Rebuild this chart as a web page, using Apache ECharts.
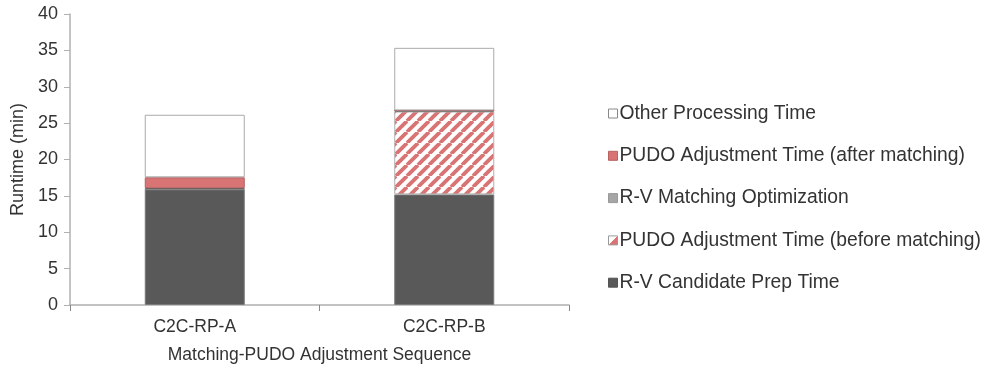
<!DOCTYPE html>
<html>
<head>
<meta charset="utf-8">
<script src="https://cdn.jsdelivr.net/npm/echarts@6/dist/echarts.min.js"></script>
<style>
  html, body { margin: 0; padding: 0; background: #fff; }
  #chart { width: 992px; height: 366px; }
</style>
</head>
<body>
<div id="chart"></div>
<script>
// Runtime breakdown per sequence (minutes)
const categories = ['C2C-RP-A', 'C2C-RP-B'];
const candidatePrep = [15.9, 15.2];
const pudoBefore = [0, 11.4];
const matchingOpt = [0.15, 0.15];
const pudoAfter = [1.5, 0];
const otherProcessing = [8.6, 8.6];
const yTicks = [0, 5, 10, 15, 20, 25, 30, 35, 40];

const RED = '#d87474';

// Diagonal red hatch tile
function hatchTile() {
  const s = 11;
  const c = document.createElement('canvas');
  c.width = s; c.height = s;
  const g = c.getContext('2d');
  g.fillStyle = '#ffffff';
  g.fillRect(0, 0, s, s);
  g.strokeStyle = RED;
  g.lineWidth = 3.8;
  for (let k = -1; k <= 1; k++) {
    g.beginPath();
    g.moveTo(k * s, s);
    g.lineTo(k * s + s, 0);
    g.stroke();
  }
  return c;
}

const font = 'Liberation Sans, Arial, sans-serif';
const chart = echarts.init(document.getElementById('chart'), null, { renderer: 'canvas' });

function barSeries(name, data, color, border) {
  return {
    name: name,
    type: 'bar',
    stack: 'total',
    data: data,
    barWidth: 100,
    itemStyle: { color: color, borderColor: border, borderWidth: 1 },
    emphasis: { disabled: true }
  };
}

// Legend swatch for the hatched series: half white, half red, split on the diagonal
const hatchIcon = {
  type: 'linear', x: 0, y: 0, x2: 1, y2: 1,
  colorStops: [
    { offset: 0, color: '#ffffff' }, { offset: 0.5, color: '#ffffff' },
    { offset: 0.5, color: RED }, { offset: 1, color: RED }
  ]
};

chart.setOption({
  animation: false,
  textStyle: { fontFamily: font },
  grid: { left: 70, right: 423, top: 14, bottom: 61, outerBoundsMode: 'none', containLabel: false },
  legend: {
    orient: 'vertical',
    left: 603,
    top: 99,
    itemWidth: 9,
    itemHeight: 9,
    itemGap: 23.3,
    icon: 'rect',
    textStyle: { fontSize: 19.3, color: '#333', fontFamily: font, padding: [0, 0, 0, -3] },
    data: [
      { name: 'Other Processing Time', itemStyle: { color: '#ffffff', borderColor: '#888', borderWidth: 1 } },
      { name: 'PUDO Adjustment Time (after matching)', itemStyle: { color: RED, borderColor: '#b86262', borderWidth: 1 } },
      { name: 'R-V Matching Optimization', itemStyle: { color: '#a6a6a6', borderColor: '#999', borderWidth: 1 } },
      { name: 'PUDO Adjustment Time (before matching)', itemStyle: { color: hatchIcon, borderColor: '#999', borderWidth: 1 } },
      { name: 'R-V Candidate Prep Time', itemStyle: { color: '#595959', borderColor: '#555', borderWidth: 1 } }
    ]
  },
  xAxis: {
    type: 'category',
    data: categories,
    name: 'Matching-PUDO Adjustment Sequence',
    nameLocation: 'middle',
    nameGap: 41,
    nameTextStyle: { fontSize: 17.5, color: '#333' },
    axisLine: { lineStyle: { color: '#b0b0b0', width: 1.5 } },
    axisTick: { show: true, length: 6, lineStyle: { color: '#888' } },
    axisLabel: { fontSize: 17.5, color: '#333', margin: 13 }
  },
  yAxis: {
    type: 'value',
    min: yTicks[0],
    max: yTicks[yTicks.length - 1],
    interval: 5,
    name: 'Runtime (min)',
    nameLocation: 'middle',
    nameGap: 42,
    nameTextStyle: { fontSize: 18, color: '#333' },
    axisLine: { show: true, lineStyle: { color: '#b0b0b0', width: 1.5 } },
    axisTick: { show: true, length: 6, lineStyle: { color: '#b0b0b0' } },
    axisLabel: { fontSize: 18, color: '#333', margin: 12 },
    splitLine: { show: false }
  },
  series: [
    barSeries('R-V Candidate Prep Time', candidatePrep, '#595959', '#7a7a7a'),
    barSeries('PUDO Adjustment Time (before matching)', pudoBefore,
      { image: hatchTile(), repeat: 'repeat' }, '#b0b0b0'),
    barSeries('R-V Matching Optimization', matchingOpt, '#a6a6a6', '#555555'),
    barSeries('PUDO Adjustment Time (after matching)', pudoAfter, RED, '#b06060'),
    barSeries('Other Processing Time', otherProcessing, '#ffffff', '#aaaaaa')
  ]
});
</script>
</body>
</html>
